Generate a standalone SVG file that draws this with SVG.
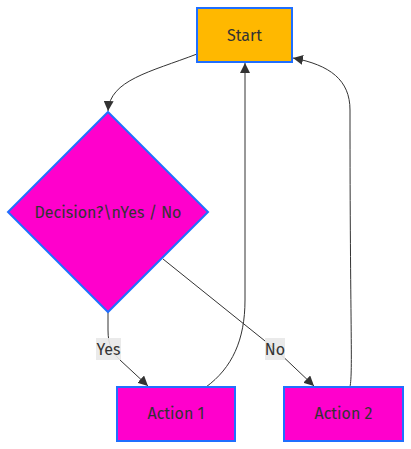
<svg xmlns="http://www.w3.org/2000/svg" width="411" height="449" viewBox="0 0 411 449">
<style>
.node{stroke:#1f6fff;stroke-width:2}
.start{fill:#ffb800}
.mag{fill:#ff00cc}
text{font-family:"Fira Sans","Lato","Open Sans",sans-serif;font-size:16px;fill:#333}
.edge{fill:none;stroke:#333;stroke-width:1}
.lbl{fill:#e8e8e8;opacity:0.9}
</style>
<defs>
<marker id="arr" viewBox="0 0 10 10" refX="10" refY="5" markerUnits="userSpaceOnUse" markerWidth="10" markerHeight="10" orient="auto">
<path d="M0,0 L10,5 L0,10 z" fill="#333"/>
</marker>
</defs>
<rect width="411" height="449" fill="#fff"/>
<g id="edges">
<path class="edge" d="M197,54 C150,72 110,80 108,111" marker-end="url(#arr)"/>
<path class="edge" d="M108,312 L108,330 C108,345 112,352 120,360 L148,386" marker-end="url(#arr)"/>
<path class="edge" d="M163,259 L275,349 L314,386" marker-end="url(#arr)"/>
<path class="edge" d="M206,387 C232,368 245,340 245,300 L245,63" marker-end="url(#arr)"/>
<path class="edge" d="M350,387 C353,370 350,330 350,110 C350,80 330,65 293,58" marker-end="url(#arr)"/>
<rect class="lbl" x="96" y="338" width="25" height="22"/>
<text x="108.5" y="355" text-anchor="middle">Yes</text>
<rect class="lbl" x="265" y="338" width="20" height="22"/>
<text x="275" y="355" text-anchor="middle">No</text>
</g>
<g id="start">
<rect class="node start" x="197" y="8" width="95" height="54"/>
<text x="244.5" y="40.5" text-anchor="middle">Start</text>
</g>
<g id="decision">
<polygon class="node mag" points="108,112 208,212 108,312 8,212"/>
<text x="108" y="217.5" text-anchor="middle">Decision?\nYes / No</text>
</g>
<g id="action1">
<rect class="node mag" x="117" y="387" width="118" height="54"/>
<text x="176" y="419" text-anchor="middle">Action 1</text>
</g>
<g id="action2">
<rect class="node mag" x="284" y="387" width="119" height="54"/>
<text x="343.5" y="419" text-anchor="middle">Action 2</text>
</g>
</svg>
